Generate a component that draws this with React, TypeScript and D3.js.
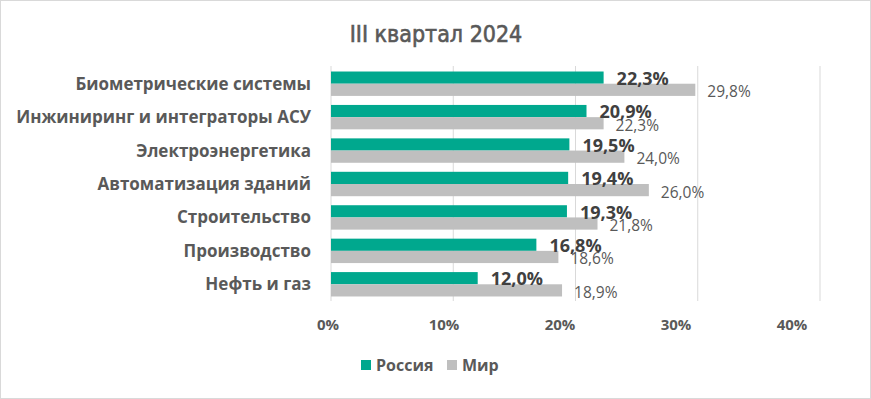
import * as d3 from "d3";
import { useRef, useEffect } from "react";

// данные диаграммы
const categories = [
  "Биометрические системы",
  "Инжиниринг и интеграторы АСУ",
  "Электроэнергетика",
  "Автоматизация зданий",
  "Строительство",
  "Производство",
  "Нефть и газ",
];
const russia = [22.3, 20.9, 19.5, 19.4, 19.3, 16.8, 12.0];
const world = [29.8, 22.3, 24.0, 26.0, 21.8, 18.6, 18.9];
const xTicks = [0, 10, 20, 30, 40];
const seriesNames = ["Россия", "Мир"];

const W = 871;
const H = 399;
const FONT = "'Open Sans', sans-serif";
const GREEN = "#00A88E";
const GREY = "#BFBFBF";
const TEXT = "#595959";

const fmt = (v: number) => v.toFixed(1).replace(".", ",") + "%";

const App = () => {
  const chartRef = useRef<SVGSVGElement>(null);

  useEffect(() => {
    const svg = d3.select(chartRef.current);
    svg.selectAll("*").remove();

    const margin = { top: 67, bottom: 98, left: 331, right: 51 };

    svg.append("rect")
      .attr("x", 0.5).attr("y", 0.5)
      .attr("width", W - 1).attr("height", H - 1)
      .attr("fill", "#fff")
      .attr("stroke", "#D9D9D9");

    // шкалы
    const scaleX = d3.scaleLinear().domain([0, 40]).range([margin.left, W - margin.right]);
    const scaleY = d3.scaleBand<string>()
      .domain(categories)
      .range([margin.top, H - margin.bottom])
      .paddingInner(0.27)
      .paddingOuter(0.135);
    const scaleSeries = d3.scaleBand<string>()
      .domain(seriesNames)
      .range([0, scaleY.bandwidth()]);
    // подписи оси в Excel чуть смещены относительно сетки
    const scaleTickLabel = d3.scaleLinear().domain([0, 40]).range([328, 792]);

    // заголовок
    svg.append("text")
      .attr("x", 436).attr("y", 42)
      .attr("text-anchor", "middle")
      .style("font-family", "'Liberation Sans Narrow', 'DejaVu Sans Condensed', sans-serif")
      .style("font-size", "23px")
      .style("fill", TEXT)
      .style("stroke", TEXT)
      .style("stroke-width", 0.6)
      .text("III квартал 2024");

    // сетка
    svg.append("g")
      .selectAll("line")
      .data(xTicks)
      .enter()
      .append("line")
      .attr("x1", d => scaleX(d)).attr("x2", d => scaleX(d))
      .attr("y1", margin.top - 1).attr("y2", H - margin.bottom)
      .style("stroke", "#D9D9D9")
      .style("stroke-width", 1);

    // подписи оси X
    svg.append("g")
      .selectAll("text")
      .data(xTicks)
      .enter()
      .append("text")
      .attr("x", d => scaleTickLabel(d))
      .attr("y", 325)
      .attr("dy", "0.35em")
      .attr("text-anchor", "middle")
      .style("font-family", FONT)
      .style("font-weight", "bold")
      .style("font-size", "15px")
      .style("fill", TEXT)
      .text(d => d + "%");

    // подписи категорий
    svg.append("g")
      .selectAll("text")
      .data(categories)
      .enter()
      .append("text")
      .attr("x", 311)
      .attr("y", d => scaleY(d)! + scaleY.bandwidth() / 2)
      .attr("dy", "0.35em")
      .attr("text-anchor", "end")
      .style("font-family", FONT)
      .style("font-weight", "bold")
      .style("font-size", "17px")
      .style("fill", TEXT)
      .text(d => d);

    // столбцы
    const series = [
      { name: seriesNames[0], values: russia, color: GREEN },
      { name: seriesNames[1], values: world, color: GREY },
    ];
    series.forEach(s => {
      svg.append("g")
        .selectAll("rect")
        .data(s.values)
        .enter()
        .append("rect")
        .attr("x", scaleX(0))
        .attr("y", (d, i) => scaleY(categories[i])! + scaleSeries(s.name)!)
        .attr("width", d => scaleX(d) - scaleX(0))
        .attr("height", scaleSeries.bandwidth())
        .style("fill", s.color);
    });

    // подписи значений
    svg.append("g")
      .selectAll("text")
      .data(world)
      .enter()
      .append("text")
      .attr("x", d => scaleX(d) + 12)
      .attr("y", (d, i) => scaleY(categories[i])! + scaleSeries(seriesNames[1])! + scaleSeries.bandwidth() / 2 + 2)
      .attr("dy", "0.35em")
      .style("font-family", FONT)
      .style("font-size", "15.5px")
      .style("fill", TEXT)
      .text(d => fmt(d));

    svg.append("g")
      .selectAll("text")
      .data(russia)
      .enter()
      .append("text")
      .attr("x", d => scaleX(d) + 13)
      .attr("y", (d, i) => scaleY(categories[i])! + scaleSeries(seriesNames[0])! + scaleSeries.bandwidth() / 2 + 1)
      .attr("dy", "0.35em")
      .style("font-family", FONT)
      .style("font-weight", "bold")
      .style("font-size", "18px")
      .style("fill", "#404040")
      .text(d => fmt(d));

    // легенда
    const legend = [
      { name: seriesNames[0], color: GREEN, x: 361 },
      { name: seriesNames[1], color: GREY, x: 447 },
    ];
    const lg = svg.append("g");
    legend.forEach(l => {
      lg.append("rect")
        .attr("x", l.x).attr("y", 360)
        .attr("width", 10).attr("height", 10)
        .style("fill", l.color);
      lg.append("text")
        .attr("x", l.x + 15).attr("y", 365)
        .attr("dy", "0.35em")
        .style("font-family", FONT)
        .style("font-weight", "bold")
        .style("font-size", "16px")
        .style("fill", TEXT)
        .text(l.name);
    });
  }, []);

  return (
    <svg ref={chartRef} width={W} height={H}
      style={{ position: "absolute", left: 0, top: 0, display: "block" }} />
  );
};

export default App;
